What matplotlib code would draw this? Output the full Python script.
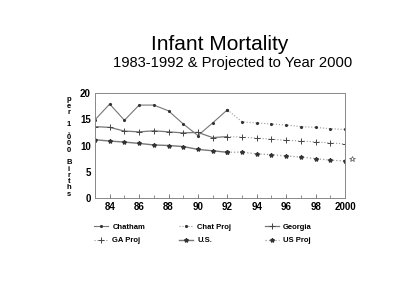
import matplotlib
matplotlib.use("Agg")
import matplotlib.pyplot as plt
from matplotlib.lines import Line2D

years_actual = [83, 84, 85, 86, 87, 88, 89, 90, 91, 92]
years_proj = [92, 93, 94, 95, 96, 97, 98, 99, 100]
chatham = [14.9, 17.9, 14.8, 17.7, 17.7, 16.6, 14.1, 11.9, 14.3, 16.8]
chat_proj = [16.8, 14.5, 14.3, 14.1, 13.9, 13.6, 13.45, 13.2, 13.05]
georgia = [13.6, 13.45, 12.75, 12.6, 12.8, 12.6, 12.4, 12.5, 11.5, 11.7]
ga_proj = [11.7, 11.6, 11.4, 11.2, 11.0, 10.85, 10.7, 10.5, 10.3]
us = [11.1, 10.85, 10.65, 10.4, 10.1, 10.0, 9.8, 9.25, 9.0, 8.7]
us_proj = [8.7, 8.75, 8.4, 8.25, 8.0, 7.8, 7.5, 7.2, 7.05]
xticks = [84, 86, 88, 90, 92, 94, 96, 98, 100]
xticklabels = ["84", "86", "88", "90", "92", "94", "96", "98", "2000"]
yticks = [0, 5, 10, 15, 20]

plt.rcParams['font.family'] = ['Liberation Sans', 'DejaVu Sans']

fig = plt.figure(figsize=(4.0, 3.06), dpi=100)
ax = fig.add_axes([95/400, 1-198/306, 250/400, 105/306])

c_act = '#777777'
c_proj = '#999999'
st = {
    'Chatham': dict(color=c_act, lw=0.8, marker='.', ms=2.5, mfc='#333333', mec='#333333'),
    'Chat Proj': dict(color=c_proj, lw=0.8, ls=':', marker='.', ms=2.5, mfc='#333333', mec='#333333'),
    'Georgia': dict(color=c_act, lw=0.9, marker='+', ms=4, mec='#444444', mew=0.7),
    'GA Proj': dict(color=c_proj, lw=0.8, ls=':', marker='+', ms=4, mec='#444444', mew=0.7),
    'U.S.': dict(color=c_act, lw=1.0, marker='*', ms=3, mfc='#333333', mec='#333333'),
    'US Proj': dict(color=c_proj, lw=0.9, ls=':', marker='*', ms=3, mfc='#333333', mec='#333333'),
}
ax.plot(years_actual, chatham, **st['Chatham'])
ax.plot(years_proj, chat_proj, **st['Chat Proj'])
ax.plot(years_actual, georgia, **st['Georgia'])
ax.plot(years_proj, ga_proj, **st['GA Proj'])
ax.plot(years_actual, us, **st['U.S.'])
ax.plot(years_proj, us_proj, **st['US Proj'])

ax.set_xlim(83, 100)
ax.set_ylim(0, 20)
ax.set_xticks(xticks)
ax.set_xticklabels(xticklabels)
ax.set_yticks(yticks)
ax.tick_params(axis='both', labelsize=7, length=3, width=0.6, color='#666666', pad=3)
ax.tick_params(axis='x', direction='in')
ax.tick_params(axis='y', length=0)
ax.set_xticks(range(83, 101), minor=True)
ax.tick_params(axis='x', which='minor', direction='in', length=2, width=0.5, color='#666666')
for lab in ax.get_xticklabels() + ax.get_yticklabels():
    lab.set_fontweight('bold')
for s in ax.spines.values():
    s.set_linewidth(0.7)
    s.set_color('#888888')

# stray marker right of the axis
ax.plot([100.5], [7.5], marker='*', ms=4, mfc='white', mec='#555555', mew=0.5, clip_on=False)

# vertical stacked y label
ylabel = "per 1,000 Births"
letters = "\n".join(ylabel)
fig.text(69/400, 1-147/306, letters, ha='center', va='center', fontsize=5.5,
         fontweight='bold', linespacing=0.86)

fig.text(220/400, 1-45/306, "Infant Mortality", ha='center', va='center', fontsize=15)
fig.text(233/400, 1-63/306, "1983-1992 & Projected to Year 2000", ha='center', va='center', fontsize=10.6)

order = ["Chatham", "GA Proj", "Chat Proj", "U.S.", "Georgia", "US Proj"]
handles = [Line2D([], [], **st[k]) for k in order]
leg = fig.legend(handles, order, ncol=3, loc='center left', bbox_to_anchor=(94/400, 1-234/306),
                 frameon=False, fontsize=5.5, handlelength=1.8, columnspacing=4.4,
                 labelspacing=0.75, handletextpad=0.6, borderpad=0, borderaxespad=0)
for t in leg.get_texts():
    t.set_fontweight('bold')

fig.savefig("out.png", dpi=100)
